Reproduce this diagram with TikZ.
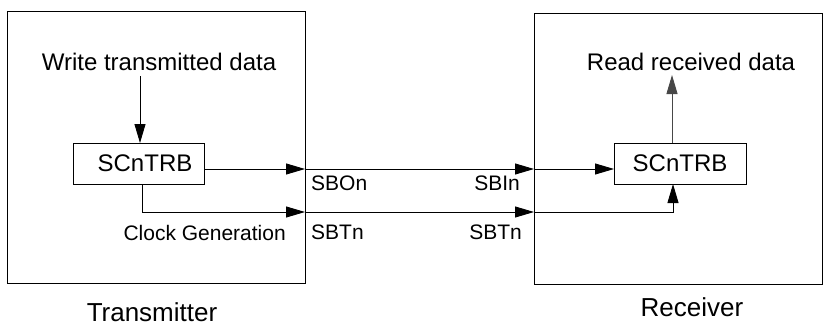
\documentclass[tikz,border=0pt]{standalone}
\usepackage{fontspec}
\setmainfont{Liberation Sans}
\usetikzlibrary{positioning, arrows.meta}

\begin{document}
\begin{tikzpicture}[
  x=1pt, y=-1pt,
  frame/.style={draw, line width=0.9pt, inner sep=0pt, outer sep=0pt},
  reg/.style={draw, line width=0.9pt, minimum width=131pt,
    minimum height=41pt, inner sep=0pt, outer sep=0pt,
    font=\fontsize{24}{28}\selectfont},
  txt/.style={font=\fontsize{24}{28}\selectfont},
  side/.style={inner sep=0pt, font=\fontsize{26}{30}\selectfont},
  lbl/.style={inner sep=0pt, font=\fontsize{21}{25}\selectfont},
  arr/.style={-{Triangle[length=19pt, width=11pt]}, line width=0.9pt},
  garr/.style={arr, draw=black!72, fill=black!72}
]
\useasboundingbox (0,0) rectangle (824,324);

\node[frame, minimum width=298pt, minimum height=272pt] (tx) at (156,147) {};
\node[frame, minimum width=288pt, minimum height=271pt] (rx) at (678,148.5) {};

\node[reg] (txreg) at (138.5,163.5) {\hspace{13pt}SCnTRB};
\node[reg, minimum width=132pt] (rxreg) at (680,163.5) {SCnTRB};

\node[txt] (write) at (159,62) {Write transmitted data};
\node[txt] (read) at (691,62) {Read received data};

\node[side] (txname) at (152,312) {Transmitter};
\node[side] (rxname) at (692,307) {Receiver};

\coordinate (sbo) at (tx.east |- 0,169);
\coordinate (sbi) at (rx.west |- 0,169);
\coordinate (sbt) at (tx.east |- 0,212);
\coordinate (sbr) at (rx.west |- 0,212);

\node[lbl, anchor=west] (sbon) at (311,183) {SBOn};
\node[lbl, anchor=east] (sbin) at (520,183) {SBIn};
\node[lbl, anchor=west] (sbtl) at (311,232) {SBTn};
\node[lbl, anchor=east] (sbtr) at (522,232) {SBTn};
\node[lbl, anchor=east] (clk) at (286,233) {Clock Generation};

\draw[arr] ([xshift=1.5pt]txreg.north |- 0,76) -- ([xshift=1.5pt]txreg.north);
\draw[garr] ([xshift=-8pt]rxreg.north) -- ([xshift=-8pt]rxreg.north |- 0,75);

\draw[arr] (txreg.east |- sbo) -- (sbo);
\draw[arr] (sbo) -- (sbi);
\draw[arr] (sbi) -- (rxreg.west |- sbi);

\draw[arr] ([xshift=3.5pt]txreg.south) |- (sbt);
\draw[arr] (sbt) -- (sbr);
\draw[arr] (sbr) -| ([xshift=-7pt]rxreg.south);
\end{tikzpicture}
\end{document}
